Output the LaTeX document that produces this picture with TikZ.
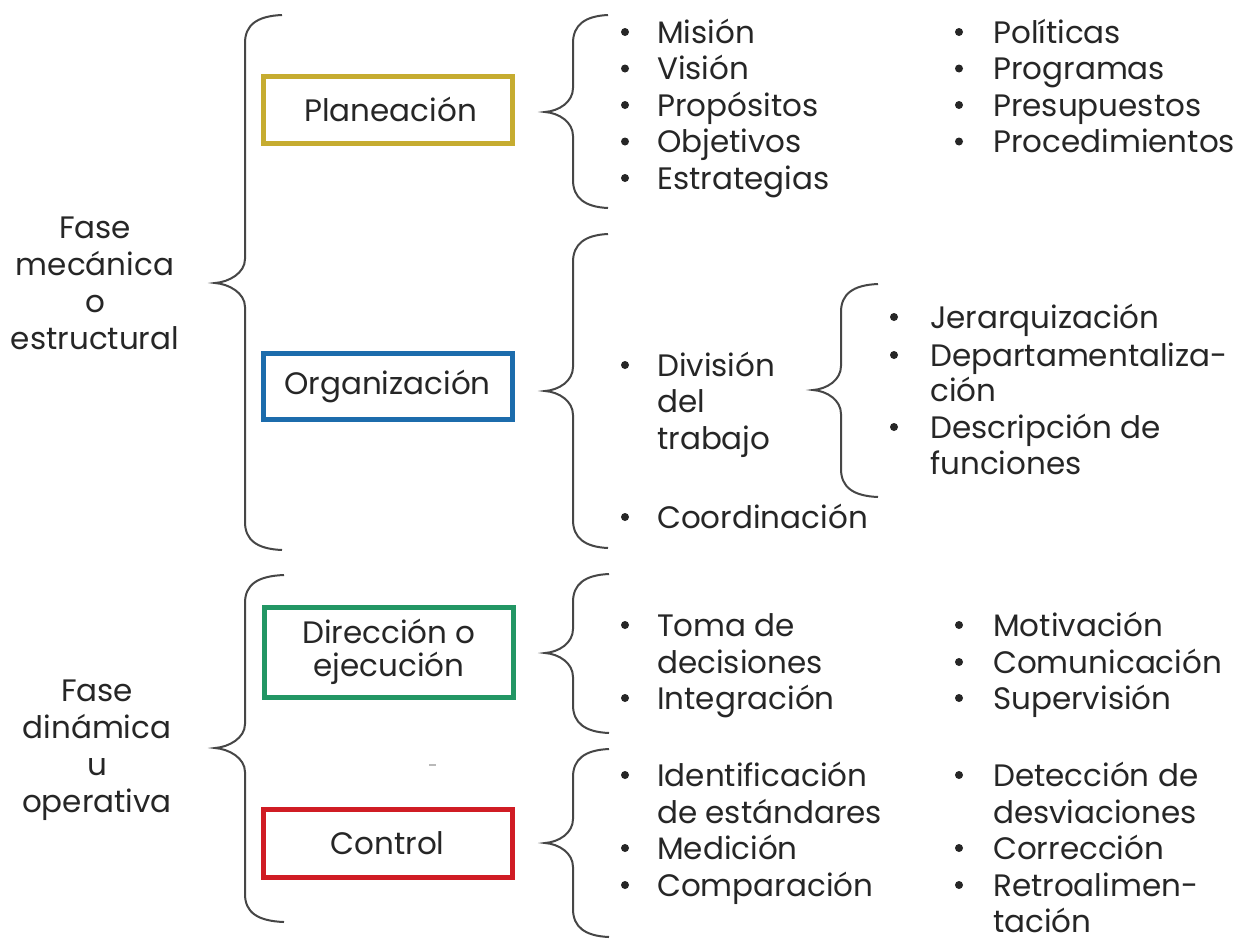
\documentclass[tikz,border=0pt]{standalone}
\usepackage{fontspec}
\setmainfont{Poppins}
\definecolor{ink}{RGB}{38,38,38}
\definecolor{bracecol}{RGB}{70,70,70}
\definecolor{planc}{RGB}{198,172,48}
\definecolor{orgc}{RGB}{28,108,172}
\definecolor{dirc}{RGB}{34,150,100}
\definecolor{ctrlc}{RGB}{208,28,36}
\newcommand\itemfont{\fontsize{31}{36.5}\selectfont}
\newcommand\boxfont{\fontsize{31}{33}\selectfont}
% #1 x end, #2 x vertical, #3 x tip, #4 y top, #5 y tip, #6 y bottom
\newcommand\mybrace[6]{%
  \draw[brl] (#1,#4) .. controls ({#2+12},{#4+1}) and (#2,{#4+10}) .. (#2,{#4+28})
    -- (#2,{#5-24}) .. controls (#2,{#5-10}) and ({#3+14},{#5-1}) .. (#3,#5)
    .. controls ({#3+14},{#5+1}) and (#2,{#5+10}) .. (#2,{#5+24})
    -- (#2,{#6-28}) .. controls (#2,{#6-10}) and ({#2+12},{#6-1}) .. (#1,#6);}
% #1 name, #2 x text, #3 y, #4 text, #5 bullet x
\newcommand\itm[5]{%
  \node[dotb] (#1b) at (#5,#3) {};
  \node[txt] (#1) at (#2,#3) {#4};}
\newcommand\cont[4]{\node[txt] (#1) at (#2,#3) {#4};}
\begin{document}
\begin{tikzpicture}[x=1pt,y=-1pt,
  txt/.style={anchor=west, inner sep=0pt, text height=22pt, text depth=0pt, font=\itemfont, text=ink},
  dotb/.style={circle, fill=ink, inner sep=0pt, minimum size=8pt},
  bx/.style={draw=#1, line width=5pt, inner sep=0pt, font=\boxfont, text=ink, align=center, minimum width=249pt},
  lab/.style={font=\fontsize{31}{37}\selectfont, text=ink, align=center},
  brl/.style={draw=bracecol, line width=2pt}]
\useasboundingbox[fill=white] (0,0) rectangle (1244,943);

% left labels
\node[lab] (fmec) at (95,283) {Fase\\mecánica\\o\\estructural};
\node[lab] (fdin) at (97,750) {Fase\\dinámica\\u\\operativa};

% big braces
\mybrace{282}{245}{215}{15}{283}{550}
\mybrace{284}{245}{215}{575}{748}{922}

% boxes
\node[bx=planc, minimum height=67pt] (plan) at (387.5,109.5) {\hspace*{6pt}Planeación};
\node[bx=orgc, minimum height=66pt] (org) at (387.5,386) {Organización};
\node[bx=dirc, minimum height=90pt] (dir) at (389,652) {Dirección o\\ejecución};
\node[bx=ctrlc, minimum height=68pt] (ctrl) at (387.5,843) {Control};

% right braces
\mybrace{608}{573}{545}{15}{112}{208}
\mybrace{608}{573}{545}{234}{391}{548}
\mybrace{609}{573}{545}{574}{653}{733}
\mybrace{609}{573}{545}{749}{843}{937}
\mybrace{878}{841}{813}{284}{390}{497}

% Planeacion items
\itm{mis}{657}{32}{Misión}{625}
\itm{vis}{657}{68.5}{Visión}{625}
\itm{prop}{657}{105}{Propósitos}{625}
\itm{obj}{657}{141.5}{Objetivos}{625}
\itm{est}{657}{178}{Estrategias}{625}
\itm{pol}{993}{32}{Políticas}{959}
\itm{prog}{993}{68.5}{Programas}{959}
\itm{pres}{993}{105}{Presupuestos}{959}
\itm{proc}{993}{141.5}{Procedimientos}{959}

% Organizacion items
\itm{div}{657}{365}{División}{625}
\cont{divb}{657}{401}{del}
\cont{divc}{657}{438}{trabajo}
\itm{coord}{657}{517}{Coordinación}{625}
\itm{jer}{930}{317}{Jerarquización}{894}
\itm{dep}{930}{355}{Departamentaliza-}{894}
\cont{depb}{930}{390}{ción}
\itm{desc}{930}{427}{Descripción de}{894}
\cont{descb}{930}{463}{funciones}

% Direccion items
\itm{toma}{657}{625}{Toma de}{625}
\cont{tomab}{657}{662}{decisiones}
\itm{integ}{657}{698}{Integración}{625}
\itm{mot}{993}{625}{Motivación}{959}
\itm{com}{993}{662}{Comunicación}{959}
\itm{sup}{993}{698}{Supervisión}{959}

% Control items
\itm{ident}{657}{775}{Identificación}{625}
\cont{identb}{657}{812}{de estándares}
\itm{med}{657}{848}{Medición}{625}
\itm{comp}{657}{885}{Comparación}{625}
\itm{det}{993}{775}{Detección de}{959}
\cont{detb}{993}{812}{desviaciones}
\itm{corr}{993}{848}{Corrección}{959}
\itm{retro}{993}{885}{Retroalimen-}{959}
\cont{retrob}{993}{921}{tación}

% small stray dash
\draw[gray!55, line width=1.5pt] (429,765) -- (436,765);
\end{tikzpicture}
\end{document}
